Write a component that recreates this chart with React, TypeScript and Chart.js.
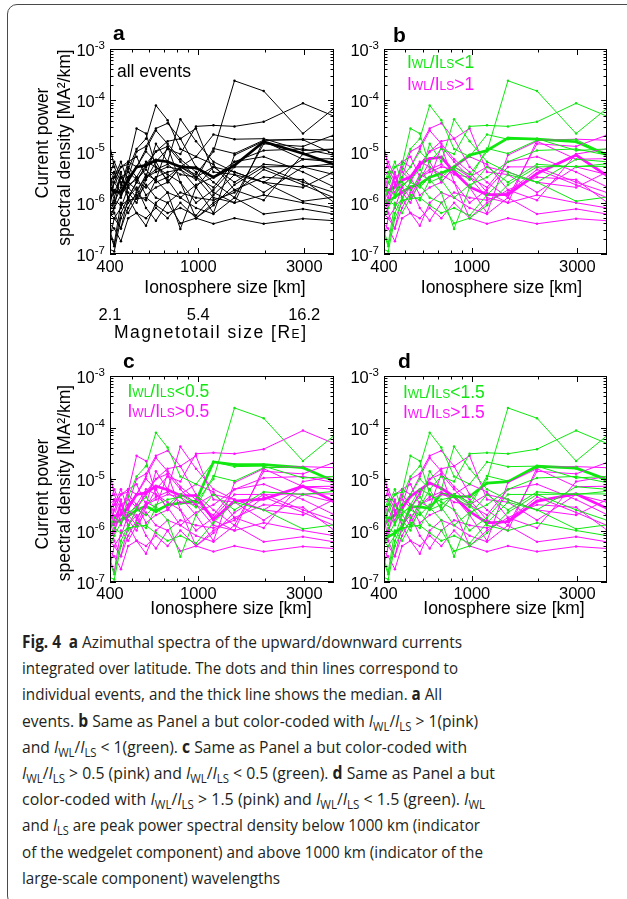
import React, { useEffect, useLayoutEffect, useRef } from 'react';
import { Chart, registerables } from 'chart.js';

Chart.register(...registerables);

// ---------------- DATA ----------------
// Ionosphere size (km) of the spectral points
const xKm = [395, 418, 448, 483, 527, 581, 644, 727, 830, 976, 1170, 1455, 1970, 2960, 4080];
const xMin = 400;
const xMax = 4085;
const yMin = 1e-7;
const yMax = 1e-3;
const xMajorTicks = [400, 1000, 3000];
const xMinorTicks = [500, 600, 700, 800, 900, 2000];
const xTickLabels = ['400', '1000', '3000'];
const tailTickLabels = ['2.1', '5.4', '16.2'];
const yDecadeExps = [-7, -6, -5, -4, -3];

// individual events: log10 of current power spectral density [MA^2/km]
const ev01 = [-6.35, -6.1, -5.85, -5.65, -5.55, -5.35, -5.6, -5.5, -5.3, -5.45, -5.0, -3.62, -3.82, -4.65, -4.16];
const ev02 = [-6.0, -5.75, -5.85, -5.35, -4.95, -4.75, -4.1, -4.39, -4.95, -5.1, -4.67, -4.76, -4.75, -4.98, -4.95];
const ev03 = [-6.55, -6.85, -6.2, -5.9, -5.6, -5.7, -5.5, -5.4, -5.35, -5.55, -4.94, -5.04, -4.78, -4.77, -5.05];
const ev04 = [-6.1, -5.95, -6.05, -5.95, -5.92, -5.9, -6.05, -6.2, -6.1, -6.25, -5.85, -5.45, -5.6, -5.97, -5.89];
const ev05 = [-6.9, -6.95, -6.3, -6.0, -5.85, -5.95, -5.55, -5.8, -6.51, -5.7, -5.3, -5.6, -5.25, -5.3, -5.24];
const ev06 = [-5.7, -5.4, -5.9, -5.5, -5.3, -5.0, -5.2, -4.95, -5.05, -4.51, -4.49, -4.51, -4.42, -4.06, -4.31];
const ev07 = [-6.1, -5.6, -5.3, -5.25, -4.55, -4.65, -5.3, -5.55, -5.9, -5.65, -5.5, -5.2, -4.98, -4.95, -5.07];
const ev08 = [-5.6, -5.5, -5.2, -5.6, -5.75, -5.5, -4.85, -5.2, -4.37, -4.8, -5.2, -5.4, -5.6, -5.15, -5.2];
const ev09 = [-6.5, -6.8, -6.0, -6.2, -5.9, -5.65, -5.9, -6.0, -6.4, -6.3, -6.05, -5.65, -5.3, -5.29, -5.29];
const ev10 = [-6.2, -6.3, -6.1, -5.7, -5.5, -5.2, -5.3, -5.45, -5.6, -6.0, -5.75, -5.3, -5.3, -5.6, -5.8];
const ev11 = [-5.3, -5.9, -5.5, -5.8, -6.0, -5.55, -5.2, -5.6, -5.3, -5.5, -5.9, -6.0, -5.85, -6.0, -6.1];
const ev12 = [-4.78, -5.3, -5.6, -5.9, -5.6, -5.25, -5.0, -4.9, -5.2, -5.5, -5.7, -5.2, -5.1, -5.4, -5.69];
const ev13 = [-5.9, -5.6, -5.8, -5.5, -5.0, -4.9, -4.55, -4.45, -4.75, -5.3, -5.6, -5.9, -4.85, -4.9, -4.68];
const ev14 = [-6.2, -6.0, -5.7, -5.2, -5.3, -4.95, -4.59, -4.85, -5.15, -5.4, -5.8, -6.0, -4.78, -4.76, -4.78];
const ev15 = [-5.5, -5.2, -5.5, -5.4, -5.55, -5.3, -5.0, -4.8, -4.75, -4.55, -5.4, -5.45, -5.8, -5.3, -5.45];
const ev16 = [-6.0, -5.8, -5.5, -5.7, -5.9, -5.5, -5.4, -5.3, -5.35, -5.7, -6.2, -5.07, -4.8, -5.15, -5.14];
const ev17 = [-6.4, -6.5, -6.75, -6.3, -6.2, -6.45, -6.0, -5.8, -5.9, -6.1, -6.22, -5.9, -6.22, -6.12, -6.22];
const ev18 = [-5.6, -6.2, -6.5, -5.9, -6.2, -6.3, -6.1, -6.3, -6.0, -6.3, -6.41, -6.3, -6.41, -6.31, -6.35];
const ev19 = [-5.8, -5.5, -5.3, -5.2, -5.1, -5.5, -5.35, -5.25, -5.45, -5.5, -5.3, -5.4, -5.6, -5.7, -5.4];
const ev20 = [-6.3, -6.1, -5.4, -5.9, -5.7, -6.1, -6.35, -6.0, -5.8, -5.9, -5.95, -5.8, -5.35, -5.65, -5.9];
const ev21 = [-5.5, -5.4, -5.65, -5.3, -5.5, -5.85, -5.7, -5.6, -5.3, -5.1, -5.25, -5.75, -5.5, -5.55, -5.99];
const ev22 = [-6.8, -6.3, -6.5, -6.1, -5.8, -5.45, -5.55, -4.9, -5.6, -6.3, -6.0, -5.75, -5.95, -5.05, -4.95];
const events = [ev01, ev02, ev03, ev04, ev05, ev06, ev07, ev08, ev09, ev10, ev11,
  ev12, ev13, ev14, ev15, ev16, ev17, ev18, ev19, ev20, ev21, ev22];

// I_WL / I_LS of each event (same order as events)
const ratioWLLS = [0.3, 0.4, 0.35, 0.45, 0.42, 0.7, 0.8, 0.9, 0.6, 1.2, 1.35,
  2.5, 3.0, 2.2, 1.9, 1.7, 2.8, 1.8, 2.0, 1.6, 2.4, 3.5];

// medians (log10)
const medianAll = [-5.69, -5.79, -5.79, -5.56, -5.3, -5.27, -5.17, -5.2, -5.3, -5.32, -5.5, -5.27, -4.81, -5.04, -5.25];
const medianB_lo = [-5.99, -5.95, -5.89, -5.79, -5.69, -5.63, -5.5, -5.43, -5.3, -5.07, -4.98, -4.74, -4.76, -4.81, -5.07];
const medianB_hi = [-5.76, -5.76, -5.69, -5.56, -5.5, -5.25, -5.14, -5.11, -5.4, -5.69, -5.84, -5.84, -5.43, -5.07, -5.47];
const medianC_lo = [-5.95, -5.85, -5.8, -5.72, -5.6, -5.53, -5.63, -5.5, -5.47, -5.43, -4.67, -4.72, -4.72, -4.78, -5.04];
const medianC_hi = [-5.76, -5.72, -5.69, -5.56, -5.3, -5.27, -5.14, -5.21, -5.32, -5.32, -5.79, -5.43, -5.39, -5.14, -5.43];
const medianD_lo = [-6.22, -6.12, -6.05, -5.93, -5.54, -5.54, -5.57, -5.28, -5.34, -5.34, -5.08, -5.05, -4.75, -4.79, -5.01];
const medianD_hi = [-5.89, -5.8, -5.7, -5.57, -5.34, -5.21, -5.08, -5.18, -5.34, -5.63, -5.85, -5.83, -5.43, -5.29, -5.57];

const captionWidths = [440, 436, 420, 456, 445, 473, 463, 458, 461, 258];

// ---------------- STYLE ----------------
const GREEN = '#10e810';
const PINK = '#ff10ff';
const BLACK = '#000000';
const FONT = '"Liberation Sans", Arial, Helvetica, sans-serif';

type Seg = { t: string; size: number; bold?: boolean; dy?: number };

function font(size: number, bold?: boolean) {
  return `${bold ? 'bold ' : ''}${size}px ${FONT}`;
}

function drawSegs(
  ctx: CanvasRenderingContext2D, x: number, y: number, segs: Seg[], color: string,
  align: 'left' | 'center' | 'right' = 'left', width?: number,
) {
  ctx.textAlign = 'left';
  ctx.textBaseline = 'alphabetic';
  let total = 0;
  let nChars = 0;
  for (const s of segs) {
    ctx.font = font(s.size, s.bold);
    total += ctx.measureText(s.t).width;
    nChars += s.t.length;
  }
  const extra = width && nChars > 1 ? (width - total) / (nChars - 1) : 0;
  const w = width || total;
  let cx = align === 'center' ? x - w / 2 : align === 'right' ? x - w : x;
  ctx.fillStyle = color;
  for (const s of segs) {
    ctx.font = font(s.size, s.bold);
    if (extra) {
      for (const ch of s.t) {
        ctx.fillText(ch, cx, y + (s.dy || 0));
        cx += ctx.measureText(ch).width + extra;
      }
    } else {
      ctx.fillText(s.t, cx, y + (s.dy || 0));
      cx += ctx.measureText(s.t).width;
    }
  }
}

type TextItem = {
  x: number; y: number; segs: Seg[]; color: string;
  align?: 'left' | 'center' | 'right'; rotate?: boolean; width?: number;
};

type PanelSpec = {
  id: string;
  left: number; top: number; w: number; h: number;
  pad: { left: number; top: number; right: number; bottom: number };
  xLabelBaseline: number;
  tail: boolean;
  texts: TextItem[];
  datasets: any[];
};

function legendSegs(op: string, val: string): Seg[] {
  return [
    { t: 'I', size: 17.5 }, { t: 'WL', size: 12 }, { t: '/I', size: 17.5 }, { t: 'LS', size: 12 }, { t: op + val, size: 17.5 },
  ];
}

function pts(logs: number[]) {
  return logs.map((v, i) => ({ x: xKm[i], y: Math.pow(10, v) }));
}

function lineDs(logs: number[], color: string, thick: boolean) {
  return {
    data: pts(logs),
    borderColor: color,
    backgroundColor: color,
    pointBackgroundColor: color,
    pointBorderWidth: 0,
    pointRadius: thick ? 1.6 : 1.25,
    borderWidth: thick ? 2.7 : 1,
    tension: 0,
    fill: false,
    clip: 0,
  };
}

function groupDatasets(threshold: number, medLo: number[], medHi: number[]) {
  const ds = events.map((e, i) => lineDs(e, ratioWLLS[i] < threshold ? GREEN : PINK, false));
  ds.push(lineDs(medLo, GREEN, true));
  ds.push(lineDs(medHi, PINK, true));
  return ds;
}

const titleSize = 17.5;

const PANELS: PanelSpec[] = [
  {
    id: 'a', left: 0, top: 0, w: 340, h: 345,
    pad: { left: 110, top: 49, right: 6, bottom: 91 },
    xLabelBaseline: 271.5, tail: true,
    texts: [
      { x: 113, y: 40, segs: [{ t: 'a', size: 21, bold: true }], color: BLACK },
      { x: 117, y: 76.5, segs: [{ t: 'all events', size: 17.5 }], color: BLACK },
      { x: 225, y: 292.5, segs: [{ t: 'Ionosphere size [km]', size: titleSize }], color: BLACK, align: 'center' },
      {
        x: 210, y: 337.5, width: 192,
        segs: [{ t: 'Magnetotail size [R', size: titleSize }, { t: 'E', size: 12 }, { t: ']', size: titleSize }],
        color: BLACK, align: 'center',
      },
      { x: 47.5, y: 143, segs: [{ t: 'Current power', size: titleSize }], color: BLACK, rotate: true },
      { x: 69.5, y: 147.5, segs: [{ t: 'spectral density [MA\u00B2/km]', size: titleSize }], color: BLACK, rotate: true },
    ],
    datasets: [...events.map((e) => lineDs(e, BLACK, false)), lineDs(medianAll, BLACK, true)],
  },
  {
    id: 'b', left: 340, top: 0, w: 287, h: 345,
    pad: { left: 44, top: 49, right: 20, bottom: 91 },
    xLabelBaseline: 271.5, tail: false,
    texts: [
      { x: 393, y: 41.5, segs: [{ t: 'b', size: 21, bold: true }], color: BLACK },
      { x: 407, y: 68.3, segs: legendSegs('<', '1'), color: GREEN },
      { x: 407, y: 90, segs: legendSegs('>', '1'), color: PINK },
      { x: 501.5, y: 292.5, segs: [{ t: 'Ionosphere size [km]', size: titleSize }], color: BLACK, align: 'center' },
    ],
    datasets: groupDatasets(1, medianB_lo, medianB_hi),
  },
  {
    id: 'c', left: 0, top: 345, w: 340, h: 280,
    pad: { left: 110, top: 31, right: 6, bottom: 43 },
    xLabelBaseline: 599.3, tail: false,
    texts: [
      { x: 123, y: 368.3, segs: [{ t: 'c', size: 21, bold: true }], color: BLACK },
      { x: 127.5, y: 397.3, segs: legendSegs('<', '0.5'), color: GREEN },
      { x: 127.5, y: 417.3, segs: legendSegs('>', '0.5'), color: PINK },
      { x: 231, y: 613.5, segs: [{ t: 'Ionosphere size [km]', size: titleSize }], color: BLACK, align: 'center' },
      { x: 47.5, y: 494, segs: [{ t: 'Current power', size: titleSize }], color: BLACK, rotate: true },
      { x: 69.5, y: 483, segs: [{ t: 'spectral density [MA\u00B2/km]', size: titleSize }], color: BLACK, rotate: true },
    ],
    datasets: groupDatasets(0.5, medianC_lo, medianC_hi),
  },
  {
    id: 'd', left: 340, top: 345, w: 287, h: 280,
    pad: { left: 44, top: 31, right: 20, bottom: 43 },
    xLabelBaseline: 599.3, tail: false,
    texts: [
      { x: 398, y: 368.3, segs: [{ t: 'd', size: 21, bold: true }], color: BLACK },
      { x: 403, y: 398, segs: legendSegs('<', '1.5'), color: GREEN },
      { x: 403, y: 418, segs: legendSegs('>', '1.5'), color: PINK },
      { x: 504, y: 613.5, segs: [{ t: 'Ionosphere size [km]', size: titleSize }], color: BLACK, align: 'center' },
    ],
    datasets: groupDatasets(1.5, medianD_lo, medianD_hi),
  },
];

function makeDecor(spec: PanelSpec) {
  return {
    id: 'decor_' + spec.id,
    afterDatasetsDraw(chart: any) {
      const ctx: CanvasRenderingContext2D = chart.ctx;
      const { left, right, top, bottom } = chart.chartArea;
      const xs = chart.scales.x;
      const ys = chart.scales.y;
      const ox = spec.left;
      const oy = spec.top;
      ctx.save();
      // frame
      ctx.strokeStyle = BLACK;
      ctx.lineWidth = 1;
      ctx.strokeRect(left + 0.5, top + 0.5, right - left - 1, bottom - top - 1);
      const MAJ = 6;
      const MIN = 3.5;
      ctx.beginPath();
      const xTick = (v: number, len: number) => {
        const p = Math.round(xs.getPixelForValue(v)) + 0.5;
        ctx.moveTo(p, bottom); ctx.lineTo(p, bottom - len);
        ctx.moveTo(p, top); ctx.lineTo(p, top + len);
      };
      xMajorTicks.forEach((v) => xTick(v, MAJ));
      xMinorTicks.forEach((v) => xTick(v, MIN));
      const yTick = (v: number, len: number) => {
        const p = Math.round(ys.getPixelForValue(v)) + 0.5;
        ctx.moveTo(left, p); ctx.lineTo(left + len, p);
        ctx.moveTo(right, p); ctx.lineTo(right - len, p);
      };
      yDecadeExps.forEach((e) => {
        yTick(Math.pow(10, e), MAJ);
        if (e < -3) {
          for (let m = 2; m <= 9; m++) yTick(m * Math.pow(10, e), MIN);
        }
      });
      ctx.stroke();

      // y tick labels
      yDecadeExps.forEach((e) => {
        const p = ys.getPixelForValue(Math.pow(10, e));
        drawSegs(ctx, left - 5, p + 7, [{ t: '10', size: 16.5 }, { t: String(e), size: 11.5, dy: -7.5 }], BLACK, 'right');
      });
      // x tick labels
      xMajorTicks.forEach((v, i) => {
        const p = xs.getPixelForValue(v);
        drawSegs(ctx, p, spec.xLabelBaseline - oy, [{ t: xTickLabels[i], size: 16.5 }], BLACK, 'center');
        if (spec.tail) {
          drawSegs(ctx, p, 320 - oy, [{ t: tailTickLabels[i], size: 16.5 }], BLACK, 'center');
        }
      });
      // texts
      spec.texts.forEach((t) => {
        const x = t.x - ox;
        const y = t.y - oy;
        if (t.rotate) {
          ctx.save();
          ctx.translate(x, y);
          ctx.rotate(-Math.PI / 2);
          drawSegs(ctx, 0, 0, t.segs, t.color, 'center', t.width);
          ctx.restore();
        } else {
          drawSegs(ctx, x, y, t.segs, t.color, t.align || 'left', t.width);
        }
      });
      ctx.restore();
    },
  };
}

function Panel({ spec }: { spec: PanelSpec }) {
  const ref = useRef<HTMLCanvasElement>(null);
  useEffect(() => {
    if (!ref.current) return;
    const chart = new Chart(ref.current, {
      type: 'line',
      data: { datasets: spec.datasets },
      options: {
        animation: false,
        responsive: false,
        devicePixelRatio: 1,
        events: [],
        layout: { padding: spec.pad },
        plugins: { legend: { display: false }, tooltip: { enabled: false }, title: { display: false } },
        scales: {
          x: { type: 'logarithmic', min: xMin, max: xMax, display: false },
          y: { type: 'logarithmic', min: yMin, max: yMax, display: false },
        },
      } as any,
      plugins: [makeDecor(spec)],
    });
    return () => chart.destroy();
  }, [spec]);
  return (
    <canvas
      ref={ref}
      width={spec.w}
      height={spec.h}
      style={{ position: 'absolute', left: spec.left, top: spec.top, width: spec.w, height: spec.h }}
    />
  );
}

const subStyle: React.CSSProperties = { fontSize: '0.72em', verticalAlign: '-0.3em', lineHeight: 0 };
const Iq = (s: string) => (
  <>
    <i>I</i>
    <span style={subStyle}>{s}</span>
  </>
);
const Ratio = () => (
  <>
    {Iq('WL')}/{Iq('LS')}
  </>
);

const captionLines: React.ReactNode[] = [
  <><b>Fig. 4</b>{'\u2002'}<b>a</b> Azimuthal spectra of the upward/downward currents</>,
  <>integrated over latitude. The dots and thin lines correspond to</>,
  <>individual events, and the thick line shows the median. <b>a</b> All</>,
  <>events. <b>b</b> Same as Panel a but color-coded with <Ratio /> &gt; 1(pink)</>,
  <>and <Ratio /> &lt; 1(green). <b>c</b> Same as Panel a but color-coded with</>,
  <><Ratio /> &gt; 0.5 (pink) and <Ratio /> &lt; 0.5 (green). <b>d</b> Same as Panel a but</>,
  <>color-coded with <Ratio /> &gt; 1.5 (pink) and <Ratio /> &lt; 1.5 (green). {Iq('WL')}</>,
  <>and {Iq('LS')} are peak power spectral density below 1000 km (indicator</>,
  <>of the wedgelet component) and above 1000 km (indicator of the</>,
  <>large-scale component) wavelengths</>,
];

function Caption() {
  const refs = useRef<(HTMLSpanElement | null)[]>([]);
  useLayoutEffect(() => {
    refs.current.forEach((el, i) => {
      if (!el) return;
      el.style.transform = 'none';
      const w = el.getBoundingClientRect().width;
      if (w > 0) el.style.transform = `scaleX(${captionWidths[i] / w})`;
    });
  }, []);
  const firstCenter = 642;
  const step = 26.2;
  return (
    <>
      {captionLines.map((ln, i) => (
        <div
          key={i}
          style={{
            position: 'absolute',
            left: 22,
            top: firstCenter + i * step - 12,
            height: 24,
            lineHeight: '24px',
            whiteSpace: 'nowrap',
          }}
        >
          <span
            ref={(el) => { refs.current[i] = el; }}
            style={{ display: 'inline-block', transformOrigin: '0 0', whiteSpace: 'nowrap' }}
          >
            {ln}
          </span>
        </div>
      ))}
    </>
  );
}

export default function App() {
  return (
    <div
      style={{
        position: 'absolute', left: 0, top: 0, width: 627, height: 899, overflow: 'hidden',
        background: '#ffffff', fontFamily: '"Open Sans", "Noto Sans", sans-serif', fontSize: 17, color: '#231f20',
      }}
    >
      <div
        style={{
          position: 'absolute', left: 7, top: 4, width: 640, height: 902,
          border: '1.3px solid #4a4a4a', borderRadius: 10, boxSizing: 'border-box',
        }}
      />
      {PANELS.map((p) => (
        <Panel key={p.id} spec={p} />
      ))}
      <Caption />
    </div>
  );
}
